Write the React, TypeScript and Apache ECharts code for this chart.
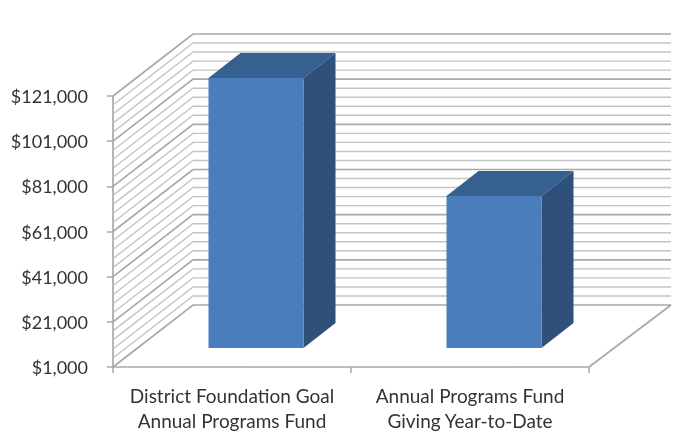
import React, { useEffect, useRef } from "react";
import * as echarts from "echarts";

const categories = ["District Foundation Goal\nAnnual Programs Fund", "Annual Programs Fund\nGiving Year-to-Date"];
const barValues = [120600, 68300];
const yTicks = { min: 1000, max: 121000, major: 20000 };
const minorLevels = [
  1000, 5000, 9000, 13000, 17000, 21000, 25000, 29000, 33000, 37000, 41000, 45000, 49000, 53000, 57000, 61000,
  65000, 69000, 73000, 77000, 81000, 85000, 89000, 93000, 97000, 101000, 105000, 109000, 113000, 117000, 121000,
];
const majorLevels = [1000, 21000, 41000, 61000, 81000, 101000, 121000];

const DEPTH_X = 80;
const DEPTH_Y = -62;
const BACK_RIGHT_X = 82;
const BAR_WIDTH = 95;
const BAR_FRONT = [24, -19];
const BAR_BACK = [56, -44];
const FONT = "Lato, Carlito, 'Open Sans', sans-serif";

function renderWall(params: any, api: any) {
  const level = api.value(1);
  const cs = params.coordSys;
  const y = api.coord([0, level])[1];
  const left = cs.x;
  const right = cs.x + cs.width;
  const major = majorLevels.includes(level);
  const style = { stroke: major ? "#a8a8a8" : "#c4c4c4", fill: "none", lineWidth: major ? 1.7 : 1.4 };
  const children: any[] = [
    {
      type: "polyline",
      shape: {
        points: [
          [left, y],
          [left + DEPTH_X, y + DEPTH_Y],
          [right + BACK_RIGHT_X, y + DEPTH_Y],
        ],
      },
      style,
    },
  ];
  if (level === yTicks.min) {
    children.push({
      type: "line",
      shape: { x1: right, y1: y, x2: right + BACK_RIGHT_X, y2: y + DEPTH_Y },
      style: { stroke: "#a8a8a8", lineWidth: 1.7 },
    });
  }
  return { type: "group", children };
}

function renderBar(_params: any, api: any) {
  const center = api.coord([api.value(0), api.value(1)])[0];
  const base = api.coord([api.value(0), yTicks.min])[1];
  const top = api.coord([api.value(0), api.value(1)])[1];
  const x0 = center + BAR_FRONT[0] - BAR_WIDTH / 2;
  const x1 = x0 + BAR_WIDTH;
  const yt = top + BAR_FRONT[1];
  const yb = base + BAR_FRONT[1];
  const dx = BAR_BACK[0] - BAR_FRONT[0];
  const dy = BAR_BACK[1] - BAR_FRONT[1];
  return {
    type: "group",
    children: [
      {
        type: "polygon",
        shape: { points: [[x0, yt], [x0 + dx, yt + dy], [x1 + dx, yt + dy], [x1, yt]] },
        style: { fill: "#36608f" },
      },
      {
        type: "polygon",
        shape: { points: [[x1, yt], [x1 + dx, yt + dy], [x1 + dx, yb + dy], [x1, yb]] },
        style: { fill: "#2f507b" },
      },
      {
        type: "rect",
        shape: { x: x0, y: yt, width: BAR_WIDTH, height: yb - yt },
        style: { fill: "#4a7dbb" },
      },
    ],
  };
}

export default function App() {
  const ref = useRef<HTMLDivElement>(null);
  useEffect(() => {
    const chart = echarts.init(ref.current!, undefined, { renderer: "svg" });
    chart.setOption({
      animation: false,
      backgroundColor: "#ffffff",
      textStyle: { fontFamily: FONT },
      grid: { left: 113, right: 105, top: 96, bottom: 78 },
      xAxis: {
        type: "category",
        data: categories,
        boundaryGap: true,
        axisLine: { lineStyle: { color: "#a8a8a8", width: 1.7 } },
        axisTick: { show: true, length: 6, lineStyle: { color: "#a8a8a8", width: 1.5 } },
        axisLabel: { interval: 0, fontSize: 19, lineHeight: 25, color: "#333333", margin: 16, fontFamily: FONT },
      },
      yAxis: {
        type: "value",
        min: yTicks.min,
        max: yTicks.max,
        interval: yTicks.major,
        splitLine: { show: false },
        axisLine: { show: true, lineStyle: { color: "#a8a8a8", width: 1.7 } },
        axisTick: { show: true, length: 6, lineStyle: { color: "#a8a8a8", width: 1.5 } },
        axisLabel: {
          fontSize: 18,
          color: "#333333",
          margin: 25,
          fontFamily: FONT,
          formatter: (v: number) => "$" + v.toLocaleString("en-US"),
        },
      },
      series: [
        {
          type: "custom",
          name: "Walls",
          silent: true,
          clip: false,
          z: 1,
          renderItem: renderWall,
          encode: { x: 0, y: 1 },
          data: minorLevels.map((v) => [0, v]),
        },
        {
          type: "custom",
          name: "Annual Programs Fund",
          silent: true,
          clip: false,
          z: 3,
          renderItem: renderBar,
          encode: { x: 0, y: 1 },
          data: barValues.map((v, i) => [i, v]),
        },
      ],
    });
    return () => chart.dispose();
  }, []);
  return (
    <div
      ref={ref}
      style={{ position: "absolute", left: 0, top: 0, width: 694, height: 445, filter: "blur(0.5px)" }}
    />
  );
}
